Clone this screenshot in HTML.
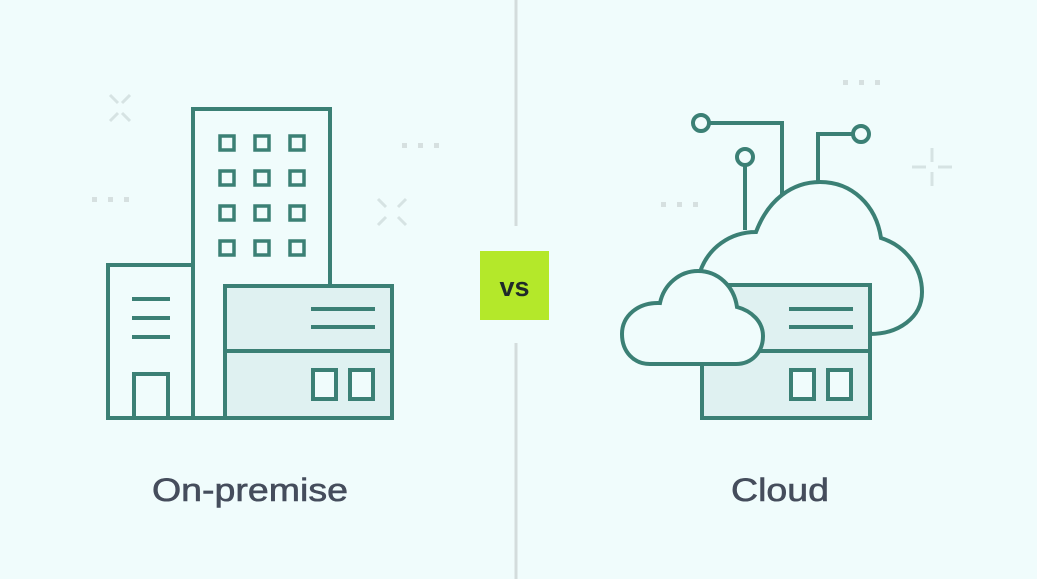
<!DOCTYPE html>
<html><head><style>
html,body{margin:0;padding:0;background:#f0fcfc;}
svg{display:block;}
</style></head><body>
<svg width="1037" height="579" viewBox="0 0 1037 579" xmlns="http://www.w3.org/2000/svg">
<rect width="1037" height="579" fill="#f0fcfc"/>
<line x1="516" y1="0" x2="516" y2="226" stroke="#d3dcdc" stroke-width="3"/>
<line x1="516" y1="343" x2="516" y2="579" stroke="#d3dcdc" stroke-width="3"/>
<g stroke="#d6e3e3" stroke-width="3" fill="none">
<path d="M110 95 L118 103 M130 95 L122 103 M110 121 L118 113 M130 121 L122 113"/>
<path d="M378 199 L386 207 M406 199 L398 207 M378 225 L386 217 M406 225 L398 217"/>
<path d="M932 148 V162 M932 172 V186 M912 167 H926 M938 167 H952"/>
</g>
<g fill="#d6e0e0">
<rect x="92" y="197" width="5" height="5"/><rect x="108" y="197" width="5" height="5"/><rect x="124" y="197" width="5" height="5"/>
<rect x="402" y="143" width="5" height="5"/><rect x="418" y="143" width="5" height="5"/><rect x="434" y="143" width="5" height="5"/>
<rect x="661" y="202" width="5" height="5"/><rect x="677" y="202" width="5" height="5"/><rect x="693" y="202" width="5" height="5"/>
<rect x="843" y="80" width="5" height="5"/><rect x="859" y="80" width="5" height="5"/><rect x="875" y="80" width="5" height="5"/>
</g>
<g stroke="#3b8075" stroke-width="4" fill="none">
<rect x="193" y="109" width="137" height="309" fill="#f0fcfc"/>
<rect x="108" y="265" width="85" height="153" fill="#f0fcfc"/>
<rect x="225" y="286" width="167" height="132" fill="#dff1f1"/>
<line x1="225" y1="351" x2="392" y2="351"/>
<line x1="132" y1="299" x2="170" y2="299"/>
<line x1="132" y1="318" x2="170" y2="318"/>
<line x1="132" y1="337" x2="170" y2="337"/>
<rect x="134" y="374" width="34" height="44" fill="#f0fcfc"/>
<line x1="311" y1="309" x2="375" y2="309"/>
<line x1="311" y1="327" x2="375" y2="327"/>
<rect x="313" y="370" width="23" height="29" fill="#f0fcfc"/>
<rect x="350" y="370" width="23" height="29" fill="#f0fcfc"/>
<g stroke-width="3.5">
<rect x="220" y="136" width="14" height="14"/><rect x="255" y="136" width="14" height="14"/><rect x="290" y="136" width="14" height="14"/>
<rect x="220" y="171" width="14" height="14"/><rect x="255" y="171" width="14" height="14"/><rect x="290" y="171" width="14" height="14"/>
<rect x="220" y="206" width="14" height="14"/><rect x="255" y="206" width="14" height="14"/><rect x="290" y="206" width="14" height="14"/>
<rect x="220" y="241" width="14" height="14"/><rect x="255" y="241" width="14" height="14"/><rect x="290" y="241" width="14" height="14"/>
</g>
</g>
<g stroke="#3b8075" stroke-width="4" fill="none">
<circle cx="701" cy="123" r="8"/>
<path d="M709 123 H782 V196"/>
<circle cx="745" cy="157" r="8"/>
<path d="M745 165 V230"/>
<circle cx="861" cy="134" r="8"/>
<path d="M853 134 H818 V183"/>
<path d="M700 272 C708 248 730 232 756 232 C768 200 792 182 820 182 C852 182 876 205 881 238 C906 246 922 268 922 292 C922 318 898 334 870 334" fill="#f0fcfc"/>
<rect x="702" y="285" width="168" height="133" fill="#dff1f1"/>
<line x1="702" y1="351" x2="870" y2="351"/>
<line x1="789" y1="309" x2="853" y2="309"/>
<line x1="789" y1="327" x2="853" y2="327"/>
<rect x="791" y="370" width="23" height="29" fill="#f0fcfc"/>
<rect x="828" y="370" width="23" height="29" fill="#f0fcfc"/>
<path d="M650 364 C634 364 622 352 622 334 C622 316 638 302 660 303 C664 284 680 271 698 271 C718 271 734 286 737 307 C752 311 763 322 763 336 C763 352 752 364 736 364 Z" fill="#f0fcfc"/>
</g>
<rect x="480" y="251" width="69" height="69" fill="#b4e82a"/>
<text x="514.5" y="296" text-anchor="middle" font-family="Liberation Sans, sans-serif" font-weight="bold" font-size="27" fill="#1f2a2a">vs</text>
<text x="250" y="501" text-anchor="middle" font-family="Liberation Sans, sans-serif" font-size="32" fill="#454d5c" stroke="#454d5c" stroke-width="0.6" textLength="196" lengthAdjust="spacingAndGlyphs">On-premise</text>
<text x="780" y="501" text-anchor="middle" font-family="Liberation Sans, sans-serif" font-size="32" fill="#454d5c" stroke="#454d5c" stroke-width="0.6" textLength="98" lengthAdjust="spacingAndGlyphs">Cloud</text>
</svg>
</body></html>
